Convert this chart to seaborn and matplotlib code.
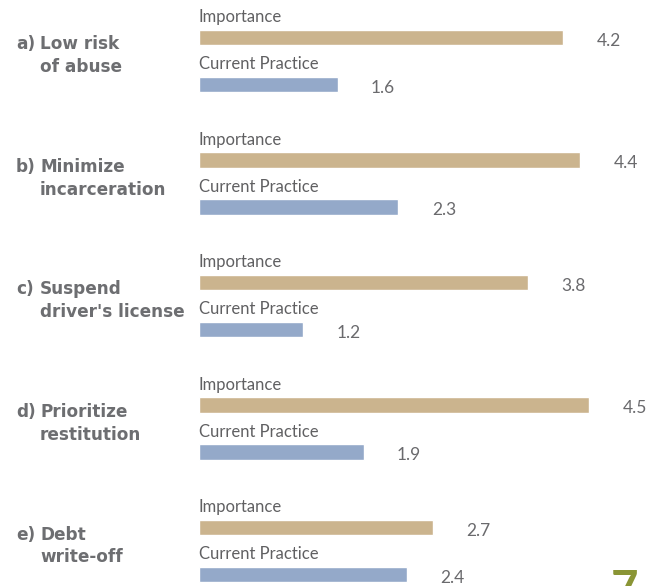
import matplotlib
matplotlib.use("Agg")
import matplotlib.pyplot as plt
import matplotlib.transforms as mtransforms
import seaborn as sns
import pandas as pd

# ---- data ----
prefixes = ["a)", "b)", "c)", "d)", "e)"]
label_line1 = ["Low risk", "Minimize", "Suspend", "Prioritize", "Debt"]
label_line2 = ["of abuse", "incarceration", "driver's license", "restitution", "write-off"]
categories = ["Low risk of abuse", "Minimize incarceration", "Suspend driver's license",
              "Prioritize restitution", "Debt write-off"]
importance = [4.2, 4.4, 3.8, 4.5, 2.7]
current_practice = [1.6, 2.3, 1.2, 1.9, 2.4]
series_names = ["Importance", "Current Practice"]

df = pd.DataFrame({
    "category": categories * 2,
    "series": [series_names[0]] * len(categories) + [series_names[1]] * len(categories),
    "value": importance + current_practice,
})

sns.set_theme(style="white")
plt.rcParams["font.family"] = ["Lato", "DejaVu Sans"]

W, H = 659, 586
fig = plt.figure(figsize=(W / 100, H / 100), dpi=100)
ax = fig.add_axes([199 / W, 0, (W - 199) / W, 1])

palette = {"Importance": "#cbb48e", "Current Practice": "#94a9c9"}
sns.barplot(data=df, y="category", x="value", hue="series", hue_order=series_names,
            order=categories, palette=palette, orient="h", width=0.767, gap=0.66,
            legend=False, ax=ax, saturation=1)

ax.set_xlim(0, 460 / 86.7)
ax.set_ylim((H - 61) / 122.5, -61 / 122.5)
ax.set_axis_off()

txt_gray = "#6d6e71"
val_gray = "#6a6a6d"
n = len(categories)
for i, patch in enumerate(ax.patches[: 2 * n]):
    series_idx = i // n
    top = patch.get_y()
    ax.annotate(series_names[series_idx], xy=(0, top), xytext=(0, 3),
                textcoords="offset points", ha="left", va="bottom",
                fontsize=12, fontweight="normal", color="#606062")
    ax.annotate(f"{patch.get_width():.1f}", xy=(patch.get_width(), top + patch.get_height() / 2),
                xytext=(24, -2.5), textcoords="offset points", ha="left", va="center",
                fontsize=12.5, fontweight="normal", color=val_gray)

trans = mtransforms.blended_transform_factory(fig.transFigure, ax.transData)
dy = 11.5 / 122.5
shift = -5 / 122.5
lab_font = dict(ha="left", va="center", fontsize=12.2, fontweight="bold",
                color=txt_gray, family=["DejaVu Sans"])
for i in range(n):
    yc = i + shift
    fig.text(16 / W, yc - dy, prefixes[i], transform=trans, **lab_font)
    fig.text(40 / W, yc - dy, label_line1[i], transform=trans, **lab_font)
    fig.text(40 / W, yc + dy, label_line2[i], transform=trans, **lab_font)

fig.text(611 / W, 1 - 569 / H, "7", ha="left", va="top", fontsize=34,
         fontweight="bold", color="#8a9535")

fig.savefig("out.png", dpi=100)
